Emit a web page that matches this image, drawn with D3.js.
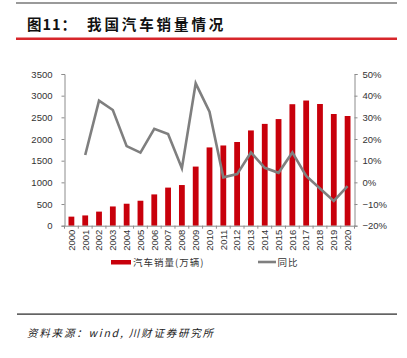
<!DOCTYPE html>
<html><head><meta charset="utf-8">
<script src="https://cdn.jsdelivr.net/npm/d3@7"></script>
<style>body{margin:0;background:#fff;} svg{display:block;}</style>
</head><body>
<svg id="c" width="407" height="358"></svg>
<script>
const years = ["2000","2001","2002","2003","2004","2005","2006","2007","2008","2009","2010","2011","2012","2013","2014","2015","2016","2017","2018","2019","2020"];
const sales = [209,237,325,444,507,576,722,879,938,1364,1806,1851,1931,2198,2349,2460,2803,2888,2808,2577,2531];
const growth = [null,12.6,37.7,33.4,16.7,13.7,24.7,22.3,6.5,45.7,32.6,2.3,3.8,13.8,6.7,4.4,13.8,3.0,-2.8,-8.6,-1.7];
const leftTicks = [0,500,1000,1500,2000,2500,3000,3500];
const rightTicks = [-20,-10,0,10,20,30,40,50];
const titleA = "图11：";
const titleB = "我国汽车销量情况";
const source = "资料来源：wind, 川财证券研究所";
const legendNames = ["汽车销量(万辆)","同比"];

const svg = d3.select("#c");
const font = "Arial, 'Liberation Sans', 'Noto Sans CJK SC', sans-serif";
const L = 64.5, R = 354.5, T = 74, B = 225.7;

// header lines
svg.append("rect").attr("x",16).attr("y",2).attr("width",381).attr("height",2).attr("fill","#9a9a9a");
svg.append("rect").attr("x",16).attr("y",37.5).attr("width",381).attr("height",2.5).attr("fill","#d7262b");
svg.append("text").attr("x",27).attr("y",30).attr("font-family","'Noto Sans CJK SC', sans-serif")
  .attr("font-weight","bold").attr("font-size",14.5).attr("letter-spacing",1).attr("fill","#111").text(titleA);
svg.append("text").attr("x",87).attr("y",30).attr("font-family","'Noto Sans CJK SC', sans-serif")
  .attr("font-weight","bold").attr("font-size",14.5).attr("letter-spacing",2.9).attr("fill","#111").text(titleB);

const x = d3.scaleBand().domain(years).range([L,R]).paddingInner(0.58).paddingOuter(0.29);
const yL = d3.scaleLinear().domain([0,3500]).range([B,T]);
const yR = d3.scaleLinear().domain([-20,50]).range([B,T]);

// bars
svg.append("g").selectAll("rect").data(sales).join("rect")
  .attr("x",(d,i)=>x(years[i])).attr("width",x.bandwidth())
  .attr("y",d=>yL(d)).attr("height",d=>yL(0)-yL(d)).attr("fill","#c8000b");

// line
const line = d3.line().defined(d=>d!=null)
  .x((d,i)=>x(years[i])+x.bandwidth()/2).y(d=>yR(d));
svg.append("path").datum(growth).attr("d",line).attr("fill","none")
  .attr("stroke","#7f7f7f").attr("stroke-width",2.6).attr("stroke-linejoin","miter");

// axes
function styleAxis(g){
  g.selectAll("path.domain").attr("stroke","#8c8c8c");
  g.selectAll(".tick line").attr("stroke","#8c8c8c");
  g.selectAll("text").attr("font-family",font).attr("font-size",9.5).attr("fill","#333");
}
const gl = svg.append("g").attr("transform",`translate(${L},0)`)
  .call(d3.axisLeft(yL).tickValues(leftTicks).tickSize(3).tickPadding(9).tickSizeOuter(3).tickFormat(d3.format("d")));
styleAxis(gl);
const gr = svg.append("g").attr("transform",`translate(${R},0)`)
  .call(d3.axisRight(yR).tickValues(rightTicks).tickSize(3).tickPadding(5).tickSizeOuter(3).tickFormat(d=>(d<0? "\u2212"+Math.abs(d):d)+"%"));
styleAxis(gr);

const gb = svg.append("g").attr("transform",`translate(0,${B})`)
  .call(d3.axisBottom(x).tickSize(0).tickPadding(0));
gb.select("path.domain").attr("stroke","#8c8c8c");
gb.selectAll(".tick text").attr("font-family",font).attr("font-size",9.5).attr("fill","#333")
  .attr("transform","rotate(-90)").attr("text-anchor","end").attr("dx","-4px").attr("dy","0.35em").attr("y",0).attr("x",0);
// band boundary ticks
const bnds = d3.range(years.length+1).map(i=>L + i*(R-L)/years.length);
svg.append("g").selectAll("line").data(bnds).join("line")
  .attr("x1",d=>d).attr("x2",d=>d).attr("y1",B).attr("y2",B+3).attr("stroke","#8c8c8c");

// legend
svg.append("rect").attr("x",111).attr("y",260).attr("width",20).attr("height",4.5).attr("fill","#c8000b");
svg.append("text").attr("x",133).attr("y",266).attr("font-family","'Noto Sans CJK SC', sans-serif")
  .attr("font-size",9.5).attr("fill","#333").attr("letter-spacing",1).text(legendNames[0]);
svg.append("line").attr("x1",258).attr("x2",276).attr("y1",262).attr("y2",262).attr("stroke","#7f7f7f").attr("stroke-width",2.6);
svg.append("text").attr("x",277.5).attr("y",266).attr("font-family","'Noto Sans CJK SC', sans-serif")
  .attr("font-size",9.5).attr("fill","#333").attr("letter-spacing",1).text(legendNames[1]);

// footer
svg.append("rect").attr("x",17).attr("y",313.5).attr("width",380).attr("height",1.2).attr("fill","#222");
svg.append("text").attr("x",27).attr("y",337).attr("font-family","'Noto Sans CJK SC', sans-serif")
  .attr("font-size",10.5).attr("font-style","italic").attr("fill","#222").attr("letter-spacing",1.8)
  .text(source);
</script>
</body></html>
